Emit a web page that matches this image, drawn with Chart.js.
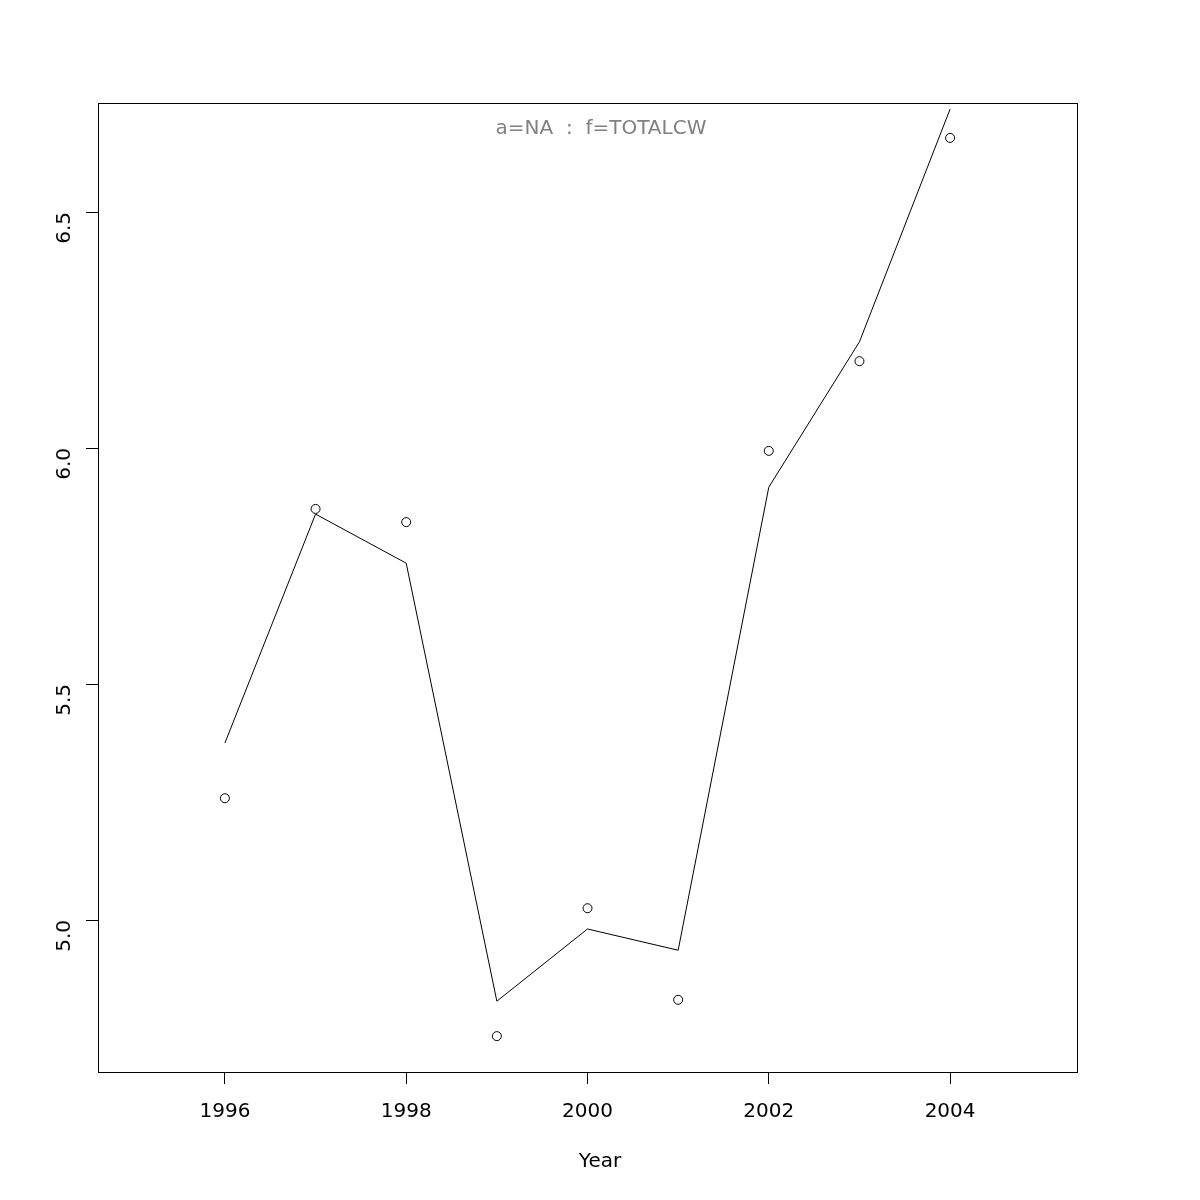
<!DOCTYPE html>
<html>
<head>
<meta charset="utf-8">
<script src="https://cdn.jsdelivr.net/npm/chart.js@4/dist/chart.umd.min.js"></script>
<style>
html, body { margin: 0; padding: 0; background: #fff; }
#wrap { width: 1200px; height: 1200px; }
</style>
</head>
<body>
<div id="wrap"><canvas id="fitChart" width="1200" height="1200"></canvas></div>
<script>
// data
const years = [1996, 1997, 1998, 1999, 2000, 2001, 2002, 2003, 2004];
const observed = [5.258, 5.871, 5.843, 4.754, 5.025, 4.831, 5.994, 6.184, 6.657];
const fitted = [5.375, 5.860, 5.756, 4.828, 4.981, 4.936, 5.917, 6.225, 6.718];
const xTicks = [1996, 1998, 2000, 2002, 2004];
const yTicks = [5.0, 5.5, 6.0, 6.5];
const plotTitle = 'a=NA  :  f=TOTALCW';
const xLabel = 'Year';

const font = 'DejaVu Sans';

// box round the plot, title inside it, x label centred on the page (like R)
const boxPlugin = {
  id: 'rbox',
  afterDraw(chart) {
    const a = chart.chartArea;
    const c = chart.ctx;
    c.save();
    c.strokeStyle = '#000';
    c.lineWidth = 1;
    c.strokeRect(Math.round(a.left) + 0.5, Math.round(a.top) + 0.5,
      Math.round(a.right - a.left), Math.round(a.bottom - a.top));
    c.textAlign = 'center';
    c.textBaseline = 'middle';
    c.font = '20px "' + font + '"';
    c.fillStyle = '#808080';
    c.fillText(plotTitle, chart.width / 2 + 1, a.top + 26);
    c.fillStyle = '#000';
    c.fillText(xLabel, chart.width / 2, a.bottom + 90);
    c.restore();
  }
};

const ctx = document.getElementById('fitChart');

new Chart(ctx, {
  type: 'scatter',
  data: {
    datasets: [{
      label: 'fitted',
      data: years.map((y, i) => ({x: y, y: fitted[i]})),
      showLine: true,
      borderColor: '#000',
      borderWidth: 1,
      pointRadius: 0,
      tension: 0
    }, {
      label: 'observed',
      data: years.map((y, i) => ({x: y, y: observed[i]})),
      showLine: false,
      pointStyle: 'circle',
      pointRadius: 4.5,
      borderColor: '#000',
      borderWidth: 1,
      backgroundColor: 'rgba(0,0,0,0)'
    }]
  },
  plugins: [boxPlugin],
  options: {
    responsive: false,
    animation: false,
    layout: { padding: { left: 0, top: 103, right: 123, bottom: 0 } },
    plugins: {
      legend: { display: false },
      tooltip: { enabled: false }
    },
    scales: {
      x: {
        type: 'linear',
        min: 1994.6,
        max: 2005.4,
        afterBuildTicks: s => { s.ticks = xTicks.map(v => ({value: v})); },
        afterFit: s => { s.height = 128; },
        border: { display: false },
        grid: { drawOnChartArea: false, drawTicks: true, tickLength: 12, color: '#000' },
        ticks: {
          color: '#000',
          font: { family: font, size: 20 },
          padding: 16,
          maxRotation: 0,
          callback: v => String(v)
        }
      },
      y: {
        min: 4.678,
        max: 6.731,
        afterBuildTicks: s => { s.ticks = yTicks.map(v => ({value: v})); },
        afterFit: s => { s.width = 98; },
        border: { display: false },
        grid: { drawOnChartArea: false, drawTicks: true, tickLength: 12, color: '#000' },
        ticks: {
          color: '#000',
          font: { family: font, size: 20 },
          padding: 21,
          minRotation: 90,
          maxRotation: 90,
          callback: v => v.toFixed(1)
        }
      }
    }
  }
});
</script>
</body>
</html>
